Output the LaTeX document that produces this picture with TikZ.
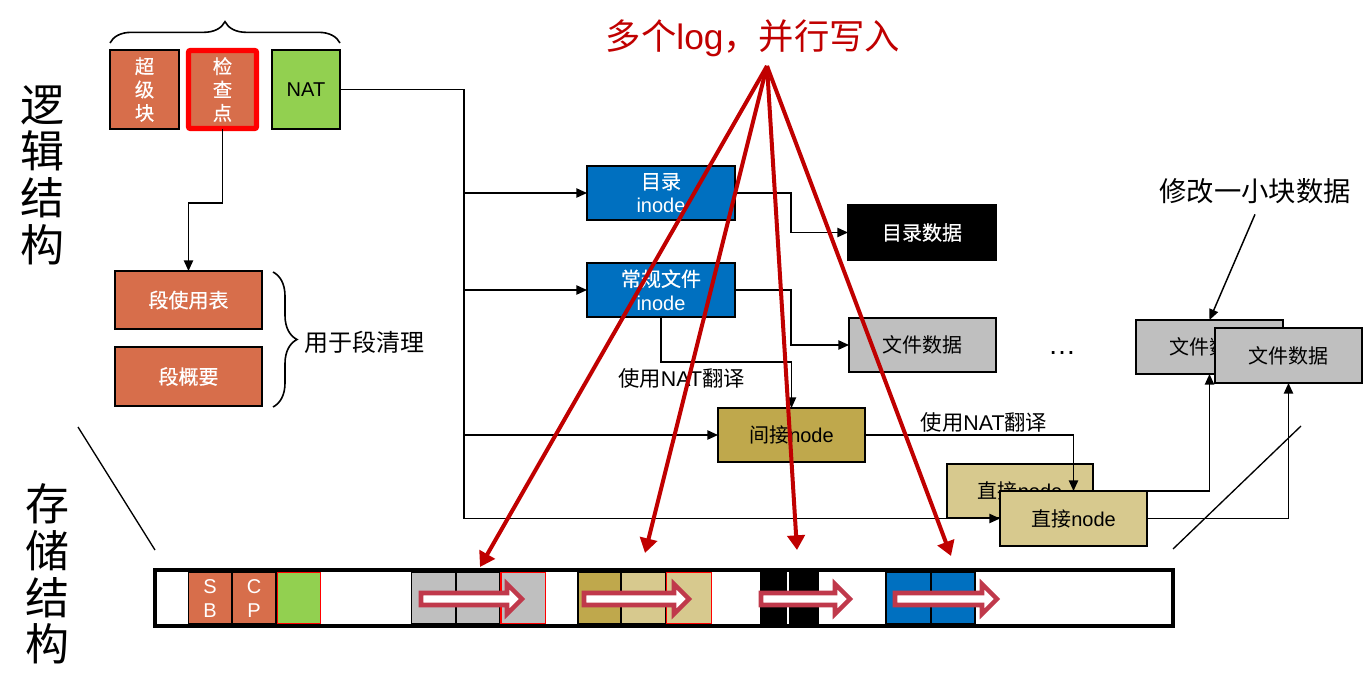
\documentclass[tikz,border=0pt]{standalone}
\usepackage{fontspec}
\setmainfont{Liberation Sans}
\newfontfamily\cjk{Noto Sans CJK SC}
\newfontfamily\cjkm[FakeBold=0.6]{Noto Sans CJK SC}
\usetikzlibrary{arrows.meta,decorations.pathreplacing,calc}
\definecolor{ppor}{RGB}{215,110,75}
\definecolor{ppgreen}{HTML}{92D050}
\definecolor{ppblue}{HTML}{0070C0}
\definecolor{ppgray}{HTML}{BFBFBF}
\definecolor{ppgold}{RGB}{191,168,76}
\definecolor{pptan}{RGB}{215,201,142}
\definecolor{ppred}{HTML}{C00000}
\definecolor{pparrow}{RGB}{192,57,75}
\newcommand{\hollowarrow}[2]{\draw[barr] (#1,593) -- ({#2-15},593) -- ({#2-15},584) -- (#2,599) -- ({#2-15},614) -- ({#2-15},605) -- (#1,605) -- cycle;}
\newcommand{\barcell}[4]{\draw[fill=#3,draw=#4,line width=1.4pt] (#1,572.5) rectangle (#2,623.5);}
\begin{document}
\begin{tikzpicture}[x=0.75pt,y=-0.75pt,
  bx/.style 2 args={draw=black,line width=1.4pt,minimum width=#1*0.75pt,minimum height=#2*0.75pt,inner sep=0pt,outer sep=0pt},
  bt/.style={font=\fontsize{15}{18}\selectfont},
  cbt/.style={font=\cjk\fontsize{15}{18}\selectfont},
  wbt/.style={font=\cjkm\fontsize{15}{18}\selectfont},
  arr/.style={line width=1.1pt,-{Triangle[length=8pt,width=7pt]}},
  ln/.style={line width=1.1pt},
  redarr/.style={draw=ppred,line width=3pt,-{Triangle[length=11pt,width=13pt]}},
  barr/.style={draw=pparrow,fill=white,line width=3.4pt},
  lbl/.style={font=\fontsize{16}{19}\selectfont},
  brc/.style={decorate,line width=1.2pt}
]
\useasboundingbox (0,0) rectangle (1372,696);

% side labels
\node[align=center,font=\cjk\fontsize{33}{35}\selectfont] (lgc) at (43,175) {逻\\辑\\结\\构};
\node[align=center,font=\cjk\fontsize{33}{35}\selectfont] (sto) at (48,574) {存\\储\\结\\构};
\coordinate (dl1) at (78,427); \coordinate (dl2) at (155,550);
\draw[line width=1pt] (dl1) -- (dl2);
\coordinate (dr1) at (1173,549); \coordinate (dr2) at (1301,426);
\draw[line width=1pt] (dr1) -- (dr2);

% top group
\draw[brc,decoration={brace,amplitude=16pt}] (110,43) -- (340,43);
\node[bx={69}{79},fill=ppor,text=white,align=center,font=\cjkm\fontsize{14.5}{17.5}\selectfont] (sb) at (144.5,89.5) {超\\级\\块};
\node[bx={68}{78},fill=ppor,draw=red,line width=4pt,rounded corners=1.5pt,text=white,align=center,font=\cjkm\fontsize{14.5}{17.5}\selectfont] (cp) at (222.5,89.5) {检\\查\\点};
\node[bx={68}{79},fill=ppgreen,bt] (nat) at (306,89.5) {NAT};

% segment tables
\node[bx={147}{58},fill=ppor,text=white,wbt] (sut) at (188.5,300) {段使用表};
\node[bx={147}{59},fill=ppor,text=white,wbt] (sum) at (188.5,376.5) {段概要};
\draw[brc,decoration={brace,amplitude=18pt}] (273,272) -- (273,407);
\node[anchor=west,font=\cjk\fontsize{18}{21}\selectfont] (clean) at (300,342) {用于段清理};
\coordinate (cpk) at (222.5,203);
\draw[arr] (cp.south) -- (cpk) -| (sut.north);

% inodes and data
\node[bx={148}{54},fill=ppblue,text=white,align=center,bt] (dino) at (661,193) {{\cjkm 目录}\\inode};
\node[bx={148}{54},fill=ppblue,text=white,align=center,bt] (fino) at (661,290) {{\cjkm 常规文件}\\inode};
\node[bx={148}{55},fill=black,text=white,wbt] (ddata) at (922,232.5) {目录数据};
\node[bx={147}{54},fill=ppgray,cbt] (fdata) at (922.5,345) {文件数据};
\node[bx={147}{54},fill=ppgold,bt] (ind) at (791.5,435) {{\cjk 间接}node};

% NAT bus
\coordinate (bus) at (464,89.5);
\coordinate (busend) at (464,518.5);
\draw[ln] (nat.east) -- (bus) -- (busend);
\draw[arr] (bus |- dino.west) -- (dino.west);
\draw[arr] (bus |- fino.west) -- (fino.west);
\draw[arr] (bus |- ind.west) -- (ind.west);

\draw[arr] (dino.east) -- ++(56,0) |- (ddata.west);
\draw[arr] (fino.east) -- ++(56,0) |- (fdata.west);
\coordinate (nk1) at (661,362);
\coordinate (nk2) at (791.5,362);
\draw[arr] (fino.south) -- (nk1) -- (nk2) -- (ind.north);
\node[lbl] (nat1) at (681.5,378) {{\cjk 使用}NAT{\cjk 翻译}};

% direct nodes and file data
\node[bx={146}{54},fill=pptan,bt] (dir1) at (1020,491) {{\cjk 直接}node};
\node[bx={147}{54},fill=ppgray,cbt] (fd1) at (1209.5,347) {文件数据};
\draw[arr] (dir1.east) -| (fd1.south);
\draw[arr] (busend) -- (1000,518.5);
\node[bx={147}{55},fill=pptan,bt] (dir2) at (1073.5,518.5) {{\cjk 直接}node};
\node[bx={147}{55},fill=ppgray,cbt] (fd2) at (1288.5,355.5) {文件数据};
\draw[arr] (dir2.east) -| (fd2.south);
\draw[arr] (ind.east) -| (dir2.north);
\node[lbl] (nat2) at (984,422) {{\cjk 使用}NAT{\cjk 翻译}};
\node[font=\fontsize{21}{24}\selectfont] (dots) at (1062,353) {…};
\node[font=\cjk\fontsize{20.5}{24}\selectfont] (mod) at (1255,191) {修改一小块数据};
\draw[arr] ($(mod.south)+(0,6)$) -- (fd1.north);

% storage bar
\fill[white] (155,570) rectangle (1173,626);
\draw[line width=2.4pt] (155,570) rectangle (1173,626);
\barcell{188.5}{231.5}{ppor}{black}
\barcell{232.5}{276}{ppor}{black}
\barcell{277.5}{320.5}{ppgreen}{red}
\barcell{411.5}{455.5}{ppgray}{black}
\barcell{456.5}{500}{ppgray}{black}
\barcell{501}{545.5}{ppgray}{red}
\barcell{578}{621}{ppgold}{black}
\barcell{621.5}{665.5}{pptan}{black}
\barcell{666.5}{711.5}{pptan}{red}
\fill[black] (760,572) rectangle (819,624);
\draw[white,line width=0.8pt] (788,572) -- (788,624);
\barcell{886}{931}{ppblue}{black}
\barcell{931}{975}{ppblue}{black}
\node[text=white,align=center,font=\fontsize{15}{18}\selectfont] (sbt) at (210,599) {S\\B};
\node[text=white,align=center,font=\fontsize{15}{18}\selectfont] (cpt) at (254,599) {C\\P};
\hollowarrow{421}{522}
\hollowarrow{584}{689}
\hollowarrow{761}{850}
\hollowarrow{895}{997}

% title and red arrows
\node[text=ppred,font=\fontsize{26.5}{30}\selectfont] (title) at (753,38) {{\cjk 多个}log{\cjk ，并行写入}};
\coordinate (apex) at (767,66);
\coordinate (t1) at (480,567);
\coordinate (t2) at (645,553);
\coordinate (t3) at (797,550);
\coordinate (t4) at (951,556);
\draw[redarr] (apex) -- (t1);
\draw[redarr] (apex) -- (t2);
\draw[redarr] (apex) -- (t3);
\draw[redarr] (apex) -- (t4);
\end{tikzpicture}
\end{document}
